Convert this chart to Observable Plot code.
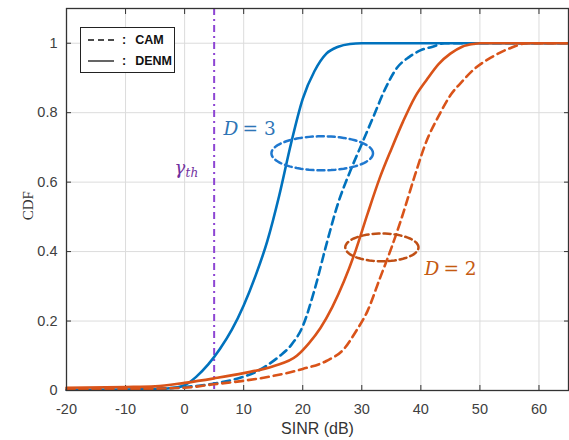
<!DOCTYPE html>
<html>
<head>
<meta charset="utf-8">
<script src="https://cdn.jsdelivr.net/npm/d3@7"></script>
<script src="https://cdn.jsdelivr.net/npm/@observablehq/plot@0.6"></script>
<style>
  html, body { margin: 0; padding: 0; background: #fff; }
  #wrap { position: relative; width: 569px; height: 440px; }
  #legend {
    position: absolute; left: 80px; top: 27px; width: 95px; height: 46px;
    border: 1.5px solid #222; background: #fff; box-sizing: border-box;
    font: bold 12.5px "Liberation Sans", Arial, sans-serif; color: #111;
  }
  #legend .row { position: absolute; left: 7px; height: 15px; display: flex; align-items: center; }
  #legend .row span.c { margin: 0 9px 0 8px; }
</style>
</head>
<body>
<div id="wrap">
  <div id="chart"></div>
  <div id="legend">
    <div class="row" style="top:4px"><svg width="26" height="4"><line x1="0" y1="2" x2="26" y2="2" stroke="#111" stroke-width="1.3" stroke-dasharray="6,4"/></svg><span class="c">:</span><span>CAM</span></div>
    <div class="row" style="top:25px"><svg width="26" height="4"><line x1="0" y1="2" x2="26" y2="2" stroke="#111" stroke-width="1.3"/></svg><span class="c">:</span><span>DENM</span></div>
  </div>
</div>
<script>
// Axis ticks
const xTicks = [-20, -10, 0, 10, 20, 30, 40, 50, 60];
const yTicks = [0, 0.2, 0.4, 0.6, 0.8, 1];

// SINR threshold (dB)
const gammaTh = 5;

// D = 3, DENM (solid)
const d3DenmX = [-20, -10, -5, -2, 0, 2, 4, 6, 8, 10, 12, 14, 16, 18, 20, 22, 24, 26, 28, 30, 65];
const d3DenmY = [0.002, 0.003, 0.004, 0.007, 0.015, 0.04, 0.075, 0.12, 0.175, 0.245, 0.33, 0.43, 0.56, 0.71, 0.84, 0.92, 0.97, 0.99, 0.998, 1, 1];

// D = 3, CAM (dashed)
const d3CamX = [-20, -10, -5, 0, 5, 10, 12, 14, 16, 18, 20, 22, 24, 26, 28, 30, 32, 34, 36, 38, 40, 42, 44, 65];
const d3CamY = [0.002, 0.003, 0.005, 0.01, 0.02, 0.04, 0.053, 0.073, 0.098, 0.13, 0.185, 0.29, 0.42, 0.54, 0.63, 0.71, 0.79, 0.87, 0.93, 0.96, 0.98, 0.99, 1, 1];

// D = 2, DENM (solid)
const d2DenmX = [-20, -10, -5, 0, 5, 10, 15, 19, 21, 23, 25, 27, 29, 31, 33, 35, 37, 39, 41, 43, 45, 47, 49, 50, 65];
const d2DenmY = [0.008, 0.01, 0.012, 0.022, 0.035, 0.05, 0.07, 0.1, 0.135, 0.18, 0.24, 0.315, 0.405, 0.51, 0.61, 0.695, 0.775, 0.845, 0.895, 0.94, 0.97, 0.99, 0.998, 1, 1];

// D = 2, CAM (dashed)
const d2CamX = [-20, -10, 0, 5, 10, 15, 20, 24, 27, 29, 31, 33, 35, 37, 39, 41, 43, 45, 47, 49, 52, 55, 58, 65];
const d2CamY = [0.003, 0.004, 0.008, 0.018, 0.028, 0.042, 0.062, 0.085, 0.12, 0.17, 0.23, 0.32, 0.41, 0.51, 0.62, 0.72, 0.79, 0.85, 0.89, 0.925, 0.96, 0.985, 1, 1];

// Group ellipses: centre and half-axes in data units
const ellipseNames = ["D3", "D2"];
const ellipseCx = [23.3, 33.4];
const ellipseCy = [0.683, 0.412];
const ellipseRx = [8.6, 6.2];
const ellipseRy = [0.049, 0.04];

const BLUE = "#0072BD";
const ORANGE = "#D95319";
const PURPLE = "#8D45D3";

const pts = (xs, ys) => xs.map((x, i) => ({x, y: ys[i]}));

function ellipse(i) {
  const out = [];
  for (let k = 0; k <= 72; k++) {
    const t = (k / 72) * 2 * Math.PI;
    out.push({x: ellipseCx[i] + ellipseRx[i] * Math.cos(t), y: ellipseCy[i] + ellipseRy[i] * Math.sin(t)});
  }
  return out;
}

const mathFont = "'DejaVu Serif', serif";

const chart = Plot.plot({
  width: 569,
  height: 440,
  marginLeft: 66,
  marginRight: 1,
  marginTop: 8,
  marginBottom: 50,
  style: {fontFamily: "'Liberation Sans', Arial, sans-serif", fontSize: "14.5px", color: "#404040", background: "#fff"},
  x: {domain: [-20, 65]},
  y: {domain: [0, 1.1]},
  marks: [
    Plot.gridX(xTicks, {stroke: "#dcdcdc", strokeOpacity: 1}),
    Plot.gridY(yTicks, {stroke: "#dcdcdc", strokeOpacity: 1}),
    Plot.axisX(xTicks, {anchor: "bottom", tickSize: -5, tickPadding: 18, label: null, stroke: "#333", tickFormat: d => String(d)}),
    Plot.axisX(xTicks, {anchor: "top", tickSize: -5, tickFormat: () => "", label: null, stroke: "#333"}),
    Plot.axisY(yTicks, {anchor: "left", tickSize: -5, tickPadding: 14, label: null, stroke: "#333", tickFormat: d => String(d)}),
    Plot.axisY(yTicks, {anchor: "right", tickSize: -5, tickFormat: () => "", label: null, stroke: "#333"}),
    Plot.text(["SINR (dB)"], {frameAnchor: "bottom", dy: 43, fontSize: 16, fill: "#333"}),
    Plot.text(["CDF"], {frameAnchor: "left", y: 0.49, dx: -38, rotate: -90, fontSize: 15, fill: "#333", fontFamily: "'Liberation Serif', serif"}),
    Plot.ruleX([gammaTh], {stroke: PURPLE, strokeWidth: 2, strokeDasharray: "7,4,2,4"}),
    Plot.line(pts(d3DenmX, d3DenmY), {x: "x", y: "y", stroke: BLUE, strokeWidth: 2.6, curve: "monotone-x"}),
    Plot.line(pts(d3CamX, d3CamY), {x: "x", y: "y", stroke: BLUE, strokeWidth: 2.6, strokeDasharray: "8,5", curve: "monotone-x"}),
    Plot.line(pts(d2CamX, d2CamY), {x: "x", y: "y", stroke: ORANGE, strokeWidth: 2.6, strokeDasharray: "8,5", curve: "monotone-x"}),
    Plot.line(pts(d2DenmX, d2DenmY), {x: "x", y: "y", stroke: ORANGE, strokeWidth: 2.6, curve: "monotone-x"}),
    Plot.line(ellipse(0), {x: "x", y: "y", stroke: "#1F78CF", strokeWidth: 2.5, strokeDasharray: "7,4", curve: "linear"}),
    Plot.line(ellipse(1), {x: "x", y: "y", stroke: "#C04F15", strokeWidth: 2.5, strokeDasharray: "7,4", curve: "linear"}),
    Plot.frame({stroke: "#333", strokeWidth: 1.3}),
    // "D = 3"
    Plot.text(["D"], {x: 6.6, y: 0.752, textAnchor: "start", fontStyle: "italic", fontSize: 18.5, fill: "#2E75B6", fontFamily: mathFont}),
    Plot.text(["= 3"], {x: 6.6, y: 0.752, dx: 19, textAnchor: "start", fontSize: 18.5, fill: "#2E75B6", fontFamily: mathFont}),
    // "D = 2"
    Plot.text(["D"], {x: 40.6, y: 0.349, textAnchor: "start", fontStyle: "italic", fontSize: 18.5, fill: "#C55A11", fontFamily: mathFont}),
    Plot.text(["= 2"], {x: 40.6, y: 0.349, dx: 19, textAnchor: "start", fontSize: 18.5, fill: "#C55A11", fontFamily: mathFont}),
    // threshold label
    Plot.text(["γ"], {x: -1.7, y: 0.64, textAnchor: "start", fontStyle: "italic", fontSize: 18, fill: "#7030A0", fontFamily: mathFont}),
    Plot.text(["th"], {x: -1.7, y: 0.625, dx: 11, textAnchor: "start", fontStyle: "italic", fontSize: 12, fill: "#7030A0", fontFamily: mathFont})
  ]
});
document.getElementById("chart").appendChild(chart);
</script>
</body>
</html>
